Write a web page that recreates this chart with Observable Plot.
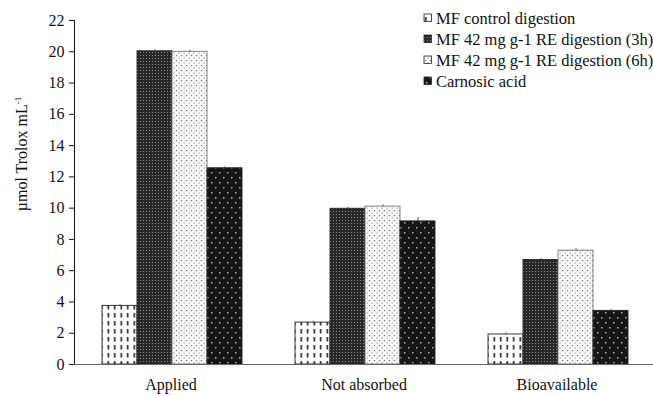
<!DOCTYPE html>
<html>
<head>
<meta charset="utf-8">
<script src="https://cdn.jsdelivr.net/npm/d3@7"></script>
<script src="https://cdn.jsdelivr.net/npm/@observablehq/plot@0.6"></script>
<style>
  html, body { margin: 0; padding: 0; background: #fff; }
  #chart { position: relative; width: 653px; height: 396px; }
  #chart svg, #chart svg text, #chart svg tspan { font-family: "Liberation Serif", "Times New Roman", serif !important; }
</style>
</head>
<body>
<div id="chart"></div>
<script>
const groups = ["Applied", "Not absorbed", "Bioavailable"];
const series = [
  "MF control digestion",
  "MF 42 mg g-1 RE digestion (3h)",
  "MF 42 mg g-1 RE digestion (6h)",
  "Carnosic acid"
];
const controlValues  = [3.75, 2.68, 1.92];
const re3hValues     = [20.03, 9.96, 6.68];
const re6hValues     = [20.0, 10.1, 7.28];
const carnosicValues = [12.55, 9.15, 3.43];
const controlErr  = [0.08, 0.08, 0.1];
const re3hErr     = [0.1, 0.08, 0.08];
const re6hErr     = [0.08, 0.1, 0.12];
const carnosicErr = [0.1, 0.25, 0.08];
const yTicks = [0, 2, 4, 6, 8, 10, 12, 14, 16, 18, 20, 22];
const yLabel = "µmol Trolox mL";
const yLabelSup = "-1";

const valueLists = [controlValues, re3hValues, re6hValues, carnosicValues];
const errLists = [controlErr, re3hErr, re6hErr, carnosicErr];
const rows = [];
series.forEach((s, si) => groups.forEach((g, gi) => {
  rows.push({group: g, series: s, si, value: valueLists[si][gi], err: errLists[si][gi]});
}));

const FONT = "Liberation Serif, Times New Roman, serif";
const patternIds = ["patControl", "pat3h", "pat6h", "patCarnosic"];

const barMarks = series.map((s, si) =>
  Plot.barY(rows.filter(d => d.si === si), {
    fx: "group", x: "series", y: "value",
    fill: `url(#${patternIds[si]})`,
    stroke: si === 2 ? "#777" : "#222", strokeWidth: 0.9
  })
);

const chart = Plot.plot({
  width: 653,
  height: 396,
  marginLeft: 73,
  marginRight: 0,
  marginTop: 20,
  marginBottom: 32,
  style: {fontFamily: FONT, fontSize: "16px", color: "#111", background: "#fff"},
  fx: {domain: groups, padding: 0, label: null, tickSize: 0, tickPadding: 14, axis: "bottom"},
  x: {domain: series, paddingInner: 0, paddingOuter: 0.75, align: 0.53, axis: null},
  y: {domain: [0, 22], ticks: yTicks, tickSize: 5, tickPadding: 5, line: true, label: null},
  marks: [
    ...barMarks,
    Plot.ruleX(rows, {fx: "group", x: "series", y1: "value", y2: d => d.value + d.err, stroke: "#444", strokeWidth: 1}),
    Plot.ruleY([0], {stroke: "#666", strokeWidth: 1.2})
  ]
});

document.getElementById("chart").appendChild(chart);

const svg = d3.select(chart);
const defs = svg.insert("defs", ":first-child");

// control: white with vertical dashes
let p = defs.append("pattern").attr("id", "patControl").attr("patternUnits", "userSpaceOnUse").attr("width", 6.5).attr("height", 8);
p.append("rect").attr("width", 6.5).attr("height", 8).attr("fill", "#fff");
p.append("rect").attr("x", 2.5).attr("y", 1).attr("width", 1.5).attr("height", 4.5).attr("fill", "#111");

// 3h: dark grey dense grid
p = defs.append("pattern").attr("id", "pat3h").attr("patternUnits", "userSpaceOnUse").attr("width", 3).attr("height", 3);
p.append("rect").attr("width", 3).attr("height", 3).attr("fill", "#282828");
p.append("rect").attr("x", 1).attr("y", 1).attr("width", 1).attr("height", 1).attr("fill", "#8a8a8a");

// 6h: white with grey speckles
p = defs.append("pattern").attr("id", "pat6h").attr("patternUnits", "userSpaceOnUse").attr("width", 5).attr("height", 5);
p.append("rect").attr("width", 5).attr("height", 5).attr("fill", "#fafafa");
p.append("rect").attr("x", 0).attr("y", 0).attr("width", 1.2).attr("height", 1.2).attr("fill", "#777");
p.append("rect").attr("x", 2.5).attr("y", 2.5).attr("width", 1.2).attr("height", 1.2).attr("fill", "#999");
p.append("rect").attr("x", 3.5).attr("y", 0.5).attr("width", 0.9).attr("height", 0.9).attr("fill", "#bbb");

// carnosic: black with sparse light dots
p = defs.append("pattern").attr("id", "patCarnosic").attr("patternUnits", "userSpaceOnUse").attr("width", 8).attr("height", 10);
p.append("rect").attr("width", 8).attr("height", 10).attr("fill", "#161616");
p.append("rect").attr("x", 2).attr("y", 2).attr("width", 1.5).attr("height", 1.5).attr("fill", "#b0b0b0");
p.append("rect").attr("x", 6).attr("y", 7).attr("width", 1.5).attr("height", 1.5).attr("fill", "#b0b0b0");

// y axis title
const yScale = chart.scale("y");
const yMid = (yScale.apply(22) + yScale.apply(0)) / 2 - 38;
const yt = svg.append("text")
  .attr("transform", `translate(27,${yMid}) rotate(-90)`)
  .attr("text-anchor", "middle")
  .attr("font-size", 16)
  .attr("fill", "#111");
yt.append("tspan").text(yLabel);
yt.append("tspan").attr("font-size", 9).attr("dy", -6).text(yLabelSup);

// legend
const lg = svg.append("g").attr("font-size", 16.5).attr("fill", "#111").attr("text-anchor", "start");
series.forEach((s, i) => {
  const cy = 18 + i * 21;
  lg.append("rect").attr("x", 424).attr("y", cy - 4).attr("width", 7.5).attr("height", 7.5)
    .attr("fill", `url(#${patternIds[i]})`).attr("stroke", "#222").attr("stroke-width", 0.8);
  lg.append("text").attr("x", 436).attr("y", cy).attr("dy", "0.35em").attr("text-anchor", "start").text(s);
});
</script>
</body>
</html>
